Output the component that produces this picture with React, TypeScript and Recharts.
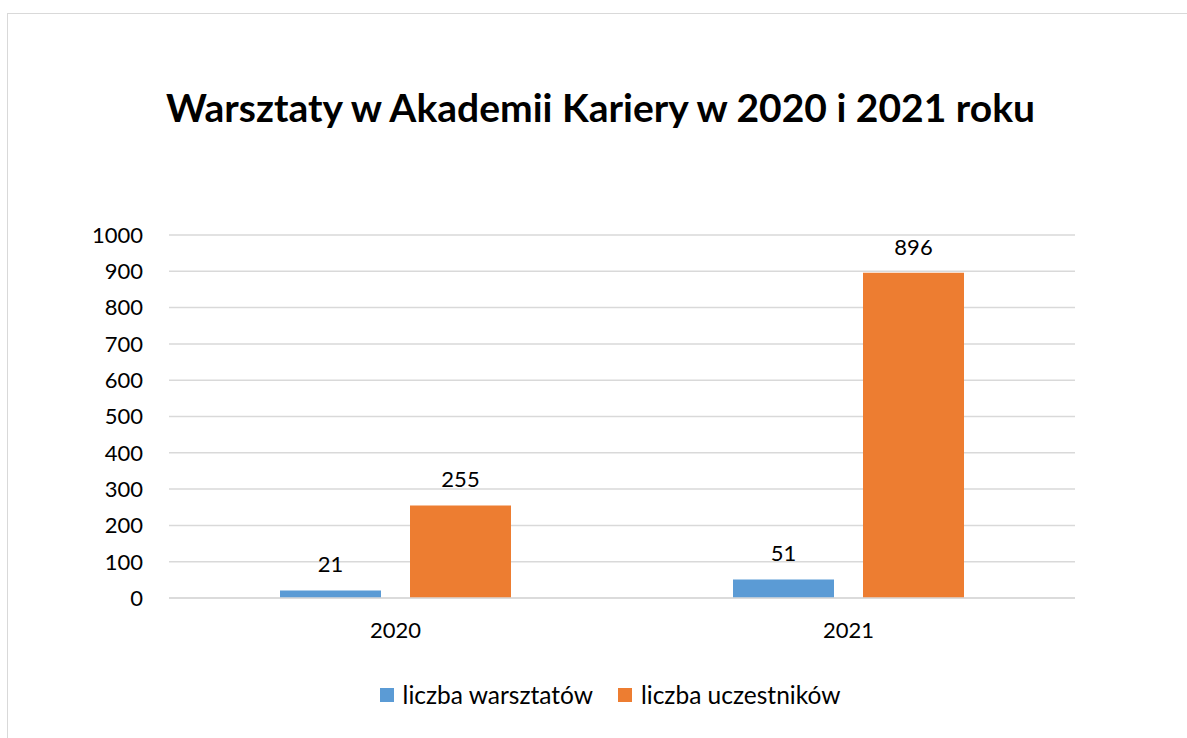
import { Bar, BarChart, CartesianGrid, LabelList, Legend, XAxis, YAxis } from "recharts";

const years = ["2020", "2021"];
const workshops = [21, 51];
const participants = [255, 896];
const seriesNames = ["liczba warsztatów", "liczba uczestników"];
const yTicks = [0, 100, 200, 300, 400, 500, 600, 700, 800, 900, 1000];

const data = years.map((year, i) => ({
  year,
  warsztaty: workshops[i],
  uczestnicy: participants[i],
}));

const FONT = "Lato, 'Open Sans', sans-serif";
const TEXT = { fontSize: 22, fill: "#000", fontFamily: FONT };

function ChartLegend({ payload }: { payload?: any[] }) {
  const items = [...(payload ?? [])].sort(
    (a, b) => seriesNames.indexOf(a.value) - seriesNames.indexOf(b.value)
  );
  return (
    <div
      style={{
        display: "flex",
        justifyContent: "center",
        alignItems: "center",
        fontFamily: FONT,
        fontSize: 24.5,
        paddingLeft: 50,
      }}
    >
      {items.map((item) => (
        <span key={item.value} style={{ display: "flex", alignItems: "center", marginRight: 25 }}>
          <span style={{ width: 14, height: 14, background: item.color, marginRight: 9, display: "inline-block" }} />
          {item.value}
        </span>
      ))}
    </div>
  );
}

export default function App() {
  return (
    <div
      style={{
        position: "absolute",
        left: 7,
        top: 13,
        width: 1200,
        height: 740,
        border: "1px solid #d9d9d9",
        background: "#fff",
      }}
    >
      <div
        style={{
          position: "absolute",
          top: 70,
          left: 0,
          width: 1185,
          textAlign: "center",
          fontFamily: FONT,
          fontWeight: 700,
          fontSize: 39,
          color: "#000",
        }}
      >
        Warsztaty w Akademii Kariery w 2020 i 2021 roku
      </div>
      <BarChart
        width={1179}
        height={730}
        data={data}
        margin={{ top: 221, right: 112, left: 0, bottom: 86 }}
        barGap={29}
        barSize={101}
      >
        <CartesianGrid vertical={false} stroke="#d9d9d9" strokeWidth={1.5} />
        <XAxis
          dataKey="year"
          height={60}
          tick={TEXT}
          axisLine={{ stroke: "#d9d9d9", strokeWidth: 1.5 }}
          tickLine={false}
          tickSize={0}
          tickMargin={24}
        />
        <YAxis
          width={161}
          domain={[0, 1000]}
          ticks={yTicks}
          interval={0}
          tick={TEXT}
          axisLine={false}
          tickLine={false}
          tickSize={0}
          tickMargin={26}
        />
        <Legend
          layout="horizontal"
          verticalAlign="middle"
          align="center"
          wrapperStyle={{ top: 666, left: 0, width: 1179 }}
          content={(props: any) => <ChartLegend payload={props.payload} />}
        />
        <Bar dataKey="warsztaty" name={seriesNames[0]} fill="#5b9bd5" isAnimationActive={false}>
          <LabelList dataKey="warsztaty" position="top" offset={18} style={TEXT} />
        </Bar>
        <Bar dataKey="uczestnicy" name={seriesNames[1]} fill="#ed7d31" isAnimationActive={false}>
          <LabelList dataKey="uczestnicy" position="top" offset={18} style={TEXT} />
        </Bar>
      </BarChart>
    </div>
  );
}
